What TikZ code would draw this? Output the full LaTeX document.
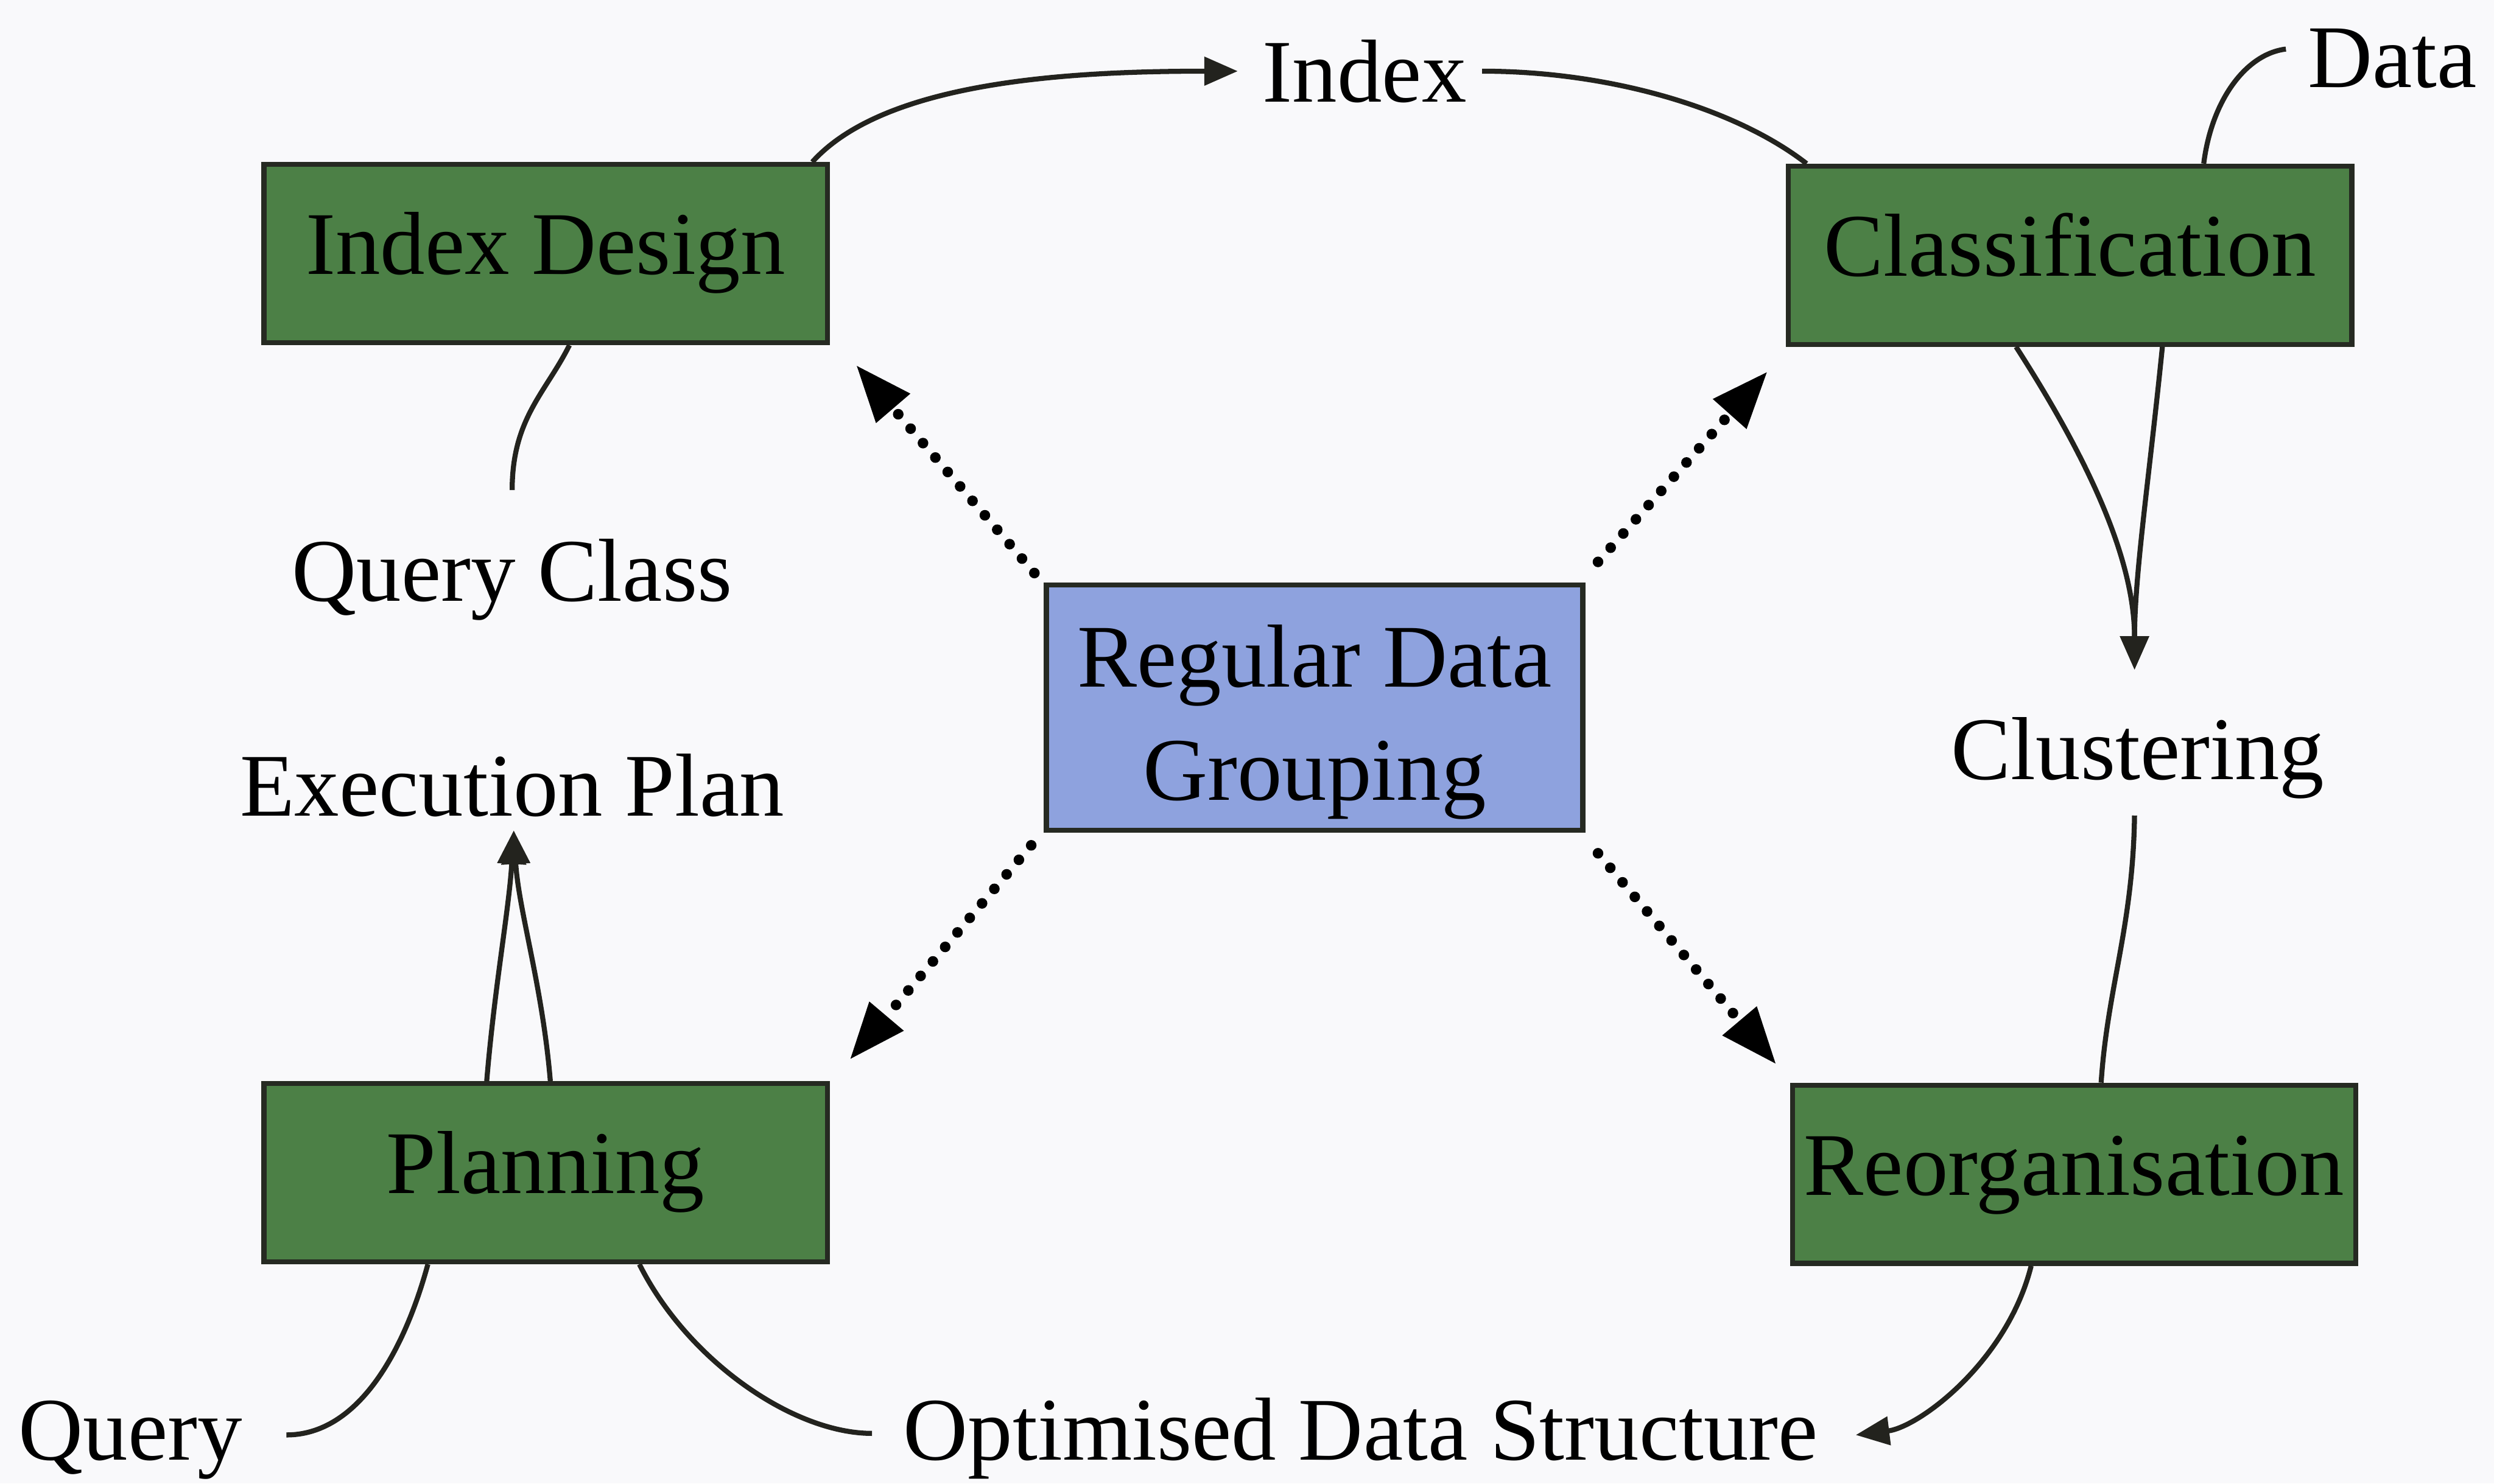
\documentclass[tikz,border=0pt]{standalone}
\usepackage{fontspec}
\setmainfont{Liberation Serif}
\usetikzlibrary{arrows.meta}
\definecolor{bg}{RGB}{249,249,251}
\definecolor{boxgreen}{RGB}{76,128,70}
\definecolor{boxblue}{RGB}{142,162,222}
\definecolor{boxline}{RGB}{38,42,34}
\definecolor{ink}{RGB}{35,35,30}
\begin{document}
\begin{tikzpicture}[x=0.01cm,y=-0.01cm,
  font=\fontsize{16}{20.2}\selectfont,
  greenbox/.style={draw=boxline, fill=boxgreen, line width=0.9pt, minimum width=3.54cm, minimum height=1.12cm, inner sep=0pt, text height=0.74em, text depth=0pt},
  bluebox/.style={draw=boxline, fill=boxblue, line width=0.9pt, minimum width=3.37cm, minimum height=1.54cm, inner sep=0pt, text height=0pt, text depth=7.4pt},
  lbl/.style={anchor=base, inner sep=2pt},
  thinline/.style={draw=ink, line width=0.9pt},
  thinarr/.style={thinline, -{Triangle[length=6pt,width=5pt]}},
  dotarr/.style={draw=black, line width=1.9pt, dash pattern=on 0pt off 3.4pt, line cap=round, -{Triangle[length=10pt,width=8pt,line width=0.4pt]}}
]
\fill[bg] (0,0) rectangle (1568,933);
\useasboundingbox (0,0) rectangle (1568,933);

% boxes
\node[greenbox] (IDes) at (343,159.5) {Index Design};
\node[greenbox] (Class) at (1301.5,160.5) {Classification};
\node[bluebox] (RDG) at (826.5,445) {\begin{tabular}[t]{@{}c@{}}Regular Data\\Grouping\end{tabular}};
\node[greenbox] (Plan) at (343,737.5) {Planning};
\node[greenbox] (Reorg) at (1304,738.5) {Reorganisation};

% labels
\node[lbl] (Index) at (858,64) {Index};
\node[lbl] (Data) at (1504,55) {Data};
\node[lbl] (QClass) at (322,378) {Query Class};
\node[lbl] (Exec) at (322,513) {Execution Plan};
\node[lbl] (Clust) at (1344,490) {Clustering};
\node[lbl] (Query) at (82,918) {Query};
\node[lbl] (ODS) at (855.5,918) {Optimised Data Structure};

\coordinate (ClTip) at ([shift={(-2,-22)}]Clust.north);
\coordinate (EPTip) at ([shift={(1,1)}]Exec.south);

% solid connectors
\draw[thinarr] ([shift={(-11,0)}]IDes.north east) .. controls +(45,-50) and +(-110,0) .. ([shift={(-8,0)}]Index.west);
\draw[thinline] ([shift={(2,0)}]Index.east) .. controls +(80,0) and +(-45,-35) .. ([shift={(13,0)}]Class.north west);
\draw[thinline] ([shift={(-6,-6)}]Data.west) .. controls +(-25,3) and +(5,-40) .. ([shift={(84,0)}]Class.north);
\draw[thinarr] ([shift={(-34,0)}]Class.south) .. controls +(45,70) and +(0,-70) .. (ClTip);
\draw[thinarr] ([shift={(58,0)}]Class.south) .. controls +(-8,80) and +(0,-60) .. (ClTip);
\draw[thinline] ([shift={(-2,3)}]Clust.south) .. controls +(-1,70) and +(4,-60) .. ([shift={(17,0)}]Reorg.north);
\draw[thinarr] ([shift={(-27,0)}]Reorg.south) .. controls +(-15,60) and +(40,-5) .. ([shift={(16,-2)}]ODS.east);
\draw[thinline] ([shift={(59,0)}]Plan.south) .. controls +(30,60) and +(-50,0) .. ([shift={(-12,-3)}]ODS.west);
\draw[thinline] ([shift={(20,-3)}]Query.east) .. controls +(45,0) and +(-15,55) .. ([shift={(-74,0)}]Plan.south);
\draw[thinarr] ([shift={(-37,0)}]Plan.north) .. controls +(5,-60) and +(-3,50) .. (EPTip);
\draw[thinarr] ([shift={(3,0)}]Plan.north) .. controls +(-5,-60) and +(3,50) .. (EPTip);
\draw[thinline] ([shift={(0,-23)}]QClass.north) .. controls +(0,-45) and +(-15,30) .. ([shift={(15,0)}]IDes.south);

% dotted arrows
\draw[dotarr] ([shift={(-6,-6)}]RDG.north west) -- ([shift={(17,13)}]IDes.south east);
\draw[dotarr] ([shift={(8,-13)}]RDG.north east) -- ([shift={(-12,16)}]Class.south west);
\draw[dotarr] ([shift={(-8,8)}]RDG.south west) -- ([shift={(13,-14)}]Plan.north east);
\draw[dotarr] ([shift={(8,13)}]RDG.south east) -- ([shift={(-9,-12)}]Reorg.north west);
\end{tikzpicture}
\end{document}
